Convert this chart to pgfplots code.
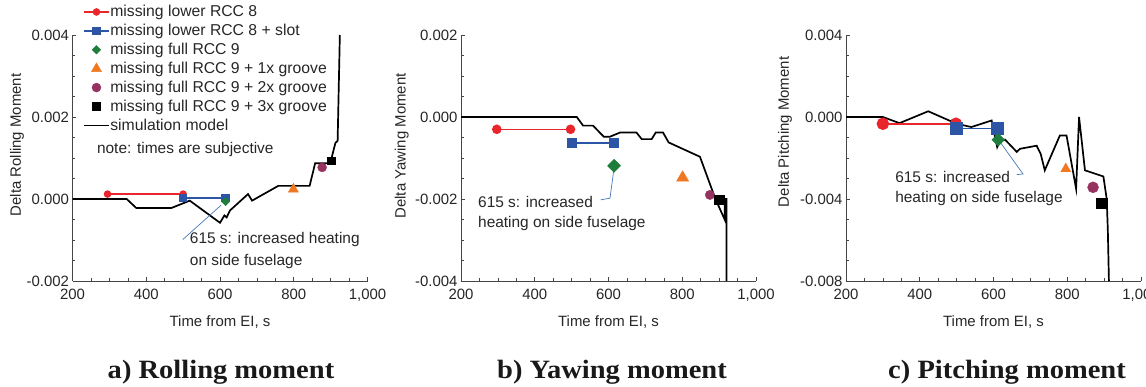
\documentclass[border=0pt]{standalone}
\usepackage{fontspec}
\setmainfont{Liberation Sans}
\newfontfamily\titlefont{Liberation Serif}
\usepackage{graphicx}
\usepackage{pgfplots}
\pgfplotsset{compat=1.18}

\definecolor{cred}{RGB}{232,38,43}
\definecolor{cblue}{RGB}{45,85,165}
\definecolor{cgreen}{RGB}{30,125,60}
\definecolor{corange}{RGB}{240,120,35}
\definecolor{cpurple}{RGB}{150,50,95}
\definecolor{clead}{RGB}{70,120,185}
\definecolor{axgray}{RGB}{70,70,70}

\pgfplotsset{
  panel/.style={
    scale only axis, width=295bp, height=246bp,
    xmin=200, xmax=1000, xtick={200,400,600,800,1000},
    minor x tick num=3, minor y tick num=3,
    axis x line*=bottom, axis y line*=left,
    axis line style={axgray, line width=0.8bp, -},
    tick align=inside,
    major tick length=3.5bp, minor tick length=2.5bp,
    every tick/.style={axgray, line width=0.6bp},
    tick label style={font=\fontsize{15}{15}\selectfont, text=black!85},
    label style={font=\fontsize{15}{15}\selectfont, text=black!85},
    /pgf/number format/assume math mode=true,
    x tick label style={/pgf/number format/1000 sep={,}, yshift=-5bp},
    y tick label style={/pgf/number format/.cd, fixed, fixed zerofill, precision=3},
    scaled y ticks=false, scaled x ticks=false,
    xlabel={Time from EI, s},
    xlabel style={at={(axis description cs:0.5,-0.165)}, anchor=center},
    clip=false,
  },
  simline/.style={black, line width=1.7bp, forget plot},
  diam/.style={mark=square*, mark options={rotate=45}},
}
\tikzset{
  leader/.style={clead, line width=0.7bp},
  note/.style={font=\fontsize{15.5}{15.5}\selectfont, text=black!85, inner sep=0pt},
}

\begin{document}
\begin{tikzpicture}
\useasboundingbox (0bp,0bp) rectangle (1146bp,387bp);

% ---------------- a) Rolling moment ----------------
\begin{axis}[panel, at={(72.5bp,106bp)}, anchor=south west,
  ymin=-0.002, ymax=0.004, ytick={-0.002,0,0.002,0.004},
  ylabel={Delta Rolling Moment},
  ylabel style={at={(axis description cs:-0.188,0.553)}, anchor=center},
  legend style={at={(axis description cs:0.036,1.128)}, anchor=north west,
    draw=none, fill=none, inner sep=0pt, outer sep=0pt,
    row sep=2bp, nodes={inner xsep=0.5bp, inner ysep=2bp, font=\fontsize{15.8}{15.8}\selectfont, text=black!85}},
  legend cell align=left,
  legend image code/.code={\draw[mark repeat=2,mark phase=2,#1] plot coordinates {(0bp,0bp) (12.5bp,0bp) (25bp,0bp)};},
]
\addplot[simline] coordinates {
 (200,0) (347,0) (373,-0.00022) (468,-0.00022) (518,-0.00004) (600,-0.00058)
 (612,-0.0004) (618,-0.00045) (627,-0.00028) (676,0.00012) (687,-0.00004)
 (758,0.00032) (843,0.00032) (858,0.00087) (899,0.00087) (913,0.00137)
 (919,0.00142) (925,0.004)};
\addplot[cred, line width=1.5bp, mark=*, mark size=3bp] coordinates {(295,0.00012) (500,0.00012)};
\addlegendentry{missing lower RCC 8}
\addplot[cblue, line width=1.5bp, mark=square*, mark size=3.3bp] coordinates {(500,0.00002) (615,0.00002)};
\addlegendentry{missing lower RCC 8 + slot}
\addplot[only marks, cgreen, diam, mark size=3bp] coordinates {(615,-0.00006)};
\addlegendentry{missing full RCC 9}
\addplot[only marks, corange, mark=triangle*, mark size=5.8bp] coordinates {(799,0.00024)};
\addlegendentry{missing full RCC 9 + 1x groove}
\addplot[only marks, cpurple, mark=*, mark size=4.5bp] coordinates {(877,0.00077)};
\addlegendentry{missing full RCC 9 + 2x groove}
\addplot[only marks, black, mark=square*, mark size=3.8bp] coordinates {(902,0.00093)};
\addlegendentry{missing full RCC 9 + 3x groove}
\addlegendimage{black, line width=1.7bp}
\addlegendentry{simulation model}
\node[note, anchor=west] at (axis cs:266,0.00121) {note: times are subjective};
\draw[leader] (axis cs:499,-0.00099) -- (axis cs:603,-0.00015);
\node[note, anchor=west] at (axis cs:518,-0.00099) {615 s: increased heating};
\node[note, anchor=west] at (axis cs:518,-0.00152) {on side fuselage};
\end{axis}

% ---------------- b) Yawing moment ----------------
\begin{axis}[panel, at={(461bp,106bp)}, anchor=south west,
  ymin=-0.004, ymax=0.002, ytick={-0.004,-0.002,0,0.002},
  ylabel={Delta Yawing Moment},
  ylabel style={at={(axis description cs:-0.201,0.549)}, anchor=center},
]
\addplot[simline] coordinates {
 (200,0) (514,0) (531,-0.00021) (558,-0.00021) (587,-0.00048) (604,-0.00048)
 (631,-0.00038) (676,-0.00038) (690,-0.00054) (717,-0.00054) (728,-0.00038)
 (748,-0.00038) (763,-0.00062) (848,-0.00097) (890,-0.002) (915,-0.0025)
 (915,-0.002) (920,-0.002) (920,-0.004)};
\addplot[cred, line width=1.5bp, mark=*, mark size=4bp] coordinates {(297,-0.0003) (497,-0.0003)};
\addplot[cblue, line width=1.5bp, mark=square*, mark size=4.3bp] coordinates {(500,-0.00063) (615,-0.00063)};
\addplot[only marks, cgreen, diam, mark size=4.6bp] coordinates {(615,-0.00119)};
\addplot[only marks, corange, mark=triangle*, mark size=7bp] coordinates {(801,-0.00148)};
\addplot[only marks, cpurple, mark=*, mark size=4.7bp] coordinates {(875,-0.0019)};
\addplot[only marks, black, mark=square*, mark size=4.6bp] coordinates {(900,-0.00202)};
\draw[leader] (axis cs:615,-0.00125) -- (axis cs:604,-0.00198) -- (axis cs:579,-0.00202);
\node[note, anchor=west] at (axis cs:246,-0.00207) {615 s: increased};
\node[note, anchor=west] at (axis cs:246,-0.00259) {heating on side fuselage};
\end{axis}

% ---------------- c) Pitching moment ----------------
\begin{axis}[panel, at={(846bp,106bp)}, anchor=south west,
  ymin=-0.008, ymax=0.004, ytick={-0.008,-0.004,0,0.004},
  ylabel={Delta Pitching Moment},
  ylabel style={at={(axis description cs:-0.207,0.606)}, anchor=center},
]
\addplot[simline] coordinates {
 (200,0) (300,0) (345,-0.0003) (423,0.00028) (500,-0.00033) (540,-0.00049)
 (595,-0.00017) (610,-0.00147) (617,-0.0012) (631,-0.0011) (663,-0.0017)
 (672,-0.00155) (717,-0.0014) (728,-0.0018) (739,-0.0026) (780,-0.0009)
 (798,-0.0009) (824,-0.0035) (832,0.0) (848,-0.0026) (898,-0.0029)
 (907,-0.004) (910,-0.0055) (913,-0.008)};
\addplot[cred, line width=1.5bp, mark=*, mark size=5.5bp] coordinates {(300,-0.00033) (498,-0.00033)};
\addplot[cblue, line width=1.5bp, mark=square*, mark size=5.6bp] coordinates {(500,-0.00055) (611,-0.00055)};
\addplot[only marks, cgreen, diam, mark size=4.5bp] coordinates {(613,-0.00111)};
\addplot[only marks, corange, mark=triangle*, mark size=5.8bp] coordinates {(796,-0.00253)};
\addplot[only marks, cpurple, mark=*, mark size=5.5bp] coordinates {(870,-0.00343)};
\addplot[only marks, black, mark=square*, mark size=5.4bp] coordinates {(893,-0.0042)};
\draw[leader] (axis cs:615,-0.00115) -- (axis cs:680,-0.00278) -- (axis cs:663,-0.00281);
\node[note, anchor=west] at (axis cs:333,-0.00292) {615 s: increased};
\node[note, anchor=west] at (axis cs:333,-0.004) {heating on side fuselage};
\end{axis}

% ---------------- panel titles ----------------
\begin{scope}[every node/.style={font=\titlefont\bfseries\fontsize{26.5}{26.5}\selectfont, text=black!90, inner sep=0pt, anchor=base}]
\node at (221bp,9bp) {\scalebox{1.08}[1]{a) Rolling moment}};
\node at (612bp,9bp) {\scalebox{1.08}[1]{b) Yawing moment}};
\node at (1007bp,9bp) {\scalebox{1.08}[1]{c) Pitching moment}};
\end{scope}
\end{tikzpicture}
\end{document}
